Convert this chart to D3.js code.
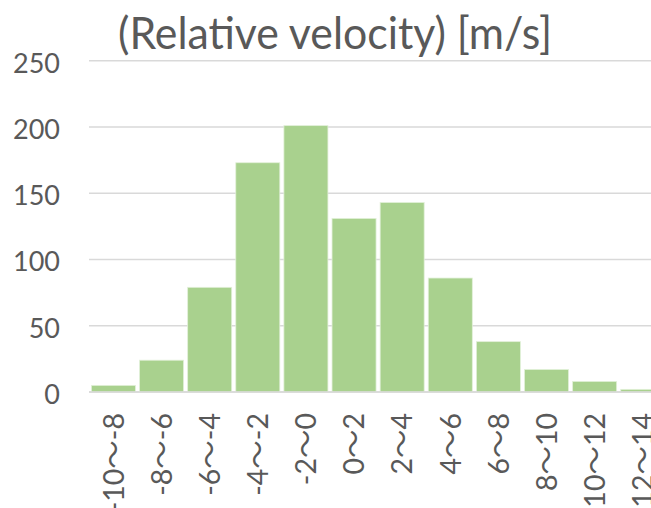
<!DOCTYPE html>
<html><head><meta charset="utf-8">
<script src="https://cdn.jsdelivr.net/npm/d3@7"></script>
<style>html,body{margin:0;padding:0;background:#fff;overflow:hidden;}</style>
</head><body>
<svg id="c" width="651" height="508"></svg>
<script>
const categories = ["-10～-8","-8～-6","-6～-4","-4～-2","-2～0","0～2","2～4","4～6","6～8","8～10","10～12","12～14"];
const counts = [5, 24, 79, 173, 201, 131, 143, 86, 38, 17, 8, 2];
const yTicks = [0, 50, 100, 150, 200, 250];
const title = "(Relative velocity) [m/s]";

const svg = d3.select("#c");
const font = "Lato, 'Noto Sans CJK JP', sans-serif";
const textColor = "#595959";

const x = d3.scaleBand().domain(categories).range([89.5, 666.7]).paddingInner(0.085).paddingOuter(0.04);
const y = d3.scaleLinear().domain([0, 250]).range([392, 60.7]);

// gridlines
svg.append("g").selectAll("line").data(yTicks).join("line")
  .attr("x1", 89).attr("x2", 651)
  .attr("y1", d => y(d)).attr("y2", d => y(d))
  .attr("stroke", "#D9D9D9").attr("stroke-width", 1.5);

// bars
svg.append("g").selectAll("rect").data(counts).join("rect")
  .attr("x", (d, i) => x(categories[i]))
  .attr("width", x.bandwidth())
  .attr("y", d => y(d))
  .attr("height", d => y(0) - y(d))
  .attr("fill", "#A9D18E")
  .attr("stroke", "#E2F0D9").attr("stroke-width", 0.8);

// baseline
svg.append("line").attr("x1", 89).attr("x2", 651).attr("y1", y(0)).attr("y2", y(0))
  .attr("stroke", "#D9D9D9").attr("stroke-width", 1.5);

// y axis labels
const yAxis = d3.axisLeft(y).tickValues(yTicks).tickSize(0).tickPadding(0);
const ya = svg.append("g").attr("transform", "translate(60,0)").call(yAxis);
ya.select(".domain").remove();
ya.selectAll("text").attr("fill", textColor).style("font-family", font).style("font-size", "27px").attr("dy", "0.42em");

// x axis labels
const xAxis = d3.axisBottom(x).tickSize(0).tickPadding(0);
const xa = svg.append("g").attr("transform", `translate(0,${y(0)})`).call(xAxis);
xa.select(".domain").remove();
xa.selectAll("text")
  .attr("fill", textColor).style("font-family", font).style("font-size", "28.5px")
  .attr("transform", "rotate(-90)")
  .attr("text-anchor", "end")
  .attr("x", -21).attr("y", 0).attr("dy", "0.36em");

// title
svg.append("text").attr("x", 118).attr("y", 49)
  .attr("fill", textColor).style("font-family", font).style("font-size", "44px")
  .attr("textLength", 434).attr("lengthAdjust", "spacingAndGlyphs")
  .text(title);
</script>
</body></html>
